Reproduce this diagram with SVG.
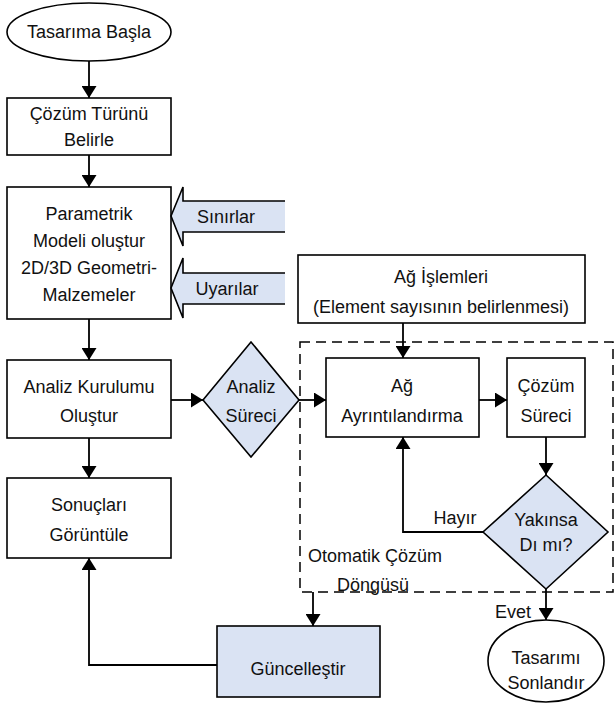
<svg xmlns="http://www.w3.org/2000/svg" width="614" height="709" viewBox="0 0 614 709">
<style>
.n{fill:#fff;stroke:#000;stroke-width:1.6}
.b{fill:#dae3f3;stroke:#000;stroke-width:1.6}
text{font-family:"Liberation Sans",Arial,sans-serif;font-size:18px;fill:#111;text-anchor:middle;dominant-baseline:central}
.c{fill:none;stroke:#000;stroke-width:1.8}
.d{fill:none;stroke:#000;stroke-width:1.5;stroke-dasharray:10 6}
</style>
<defs>
<marker id="ah" viewBox="0 0 12 15" refX="12" refY="7.5" markerWidth="12" markerHeight="15" markerUnits="userSpaceOnUse" orient="auto">
<path d="M0,0 L12,7.5 L0,15 Z" fill="#000"/>
</marker>
</defs>
<g id="connectors">
<line class="c" x1="89" y1="61" x2="89" y2="98" marker-end="url(#ah)"/>
<line class="c" x1="89" y1="155" x2="89" y2="187" marker-end="url(#ah)"/>
<line class="c" x1="89" y1="319" x2="89" y2="360" marker-end="url(#ah)"/>
<line class="c" x1="89" y1="438" x2="89" y2="478" marker-end="url(#ah)"/>
<line class="c" x1="171" y1="400" x2="203" y2="400" marker-end="url(#ah)"/>
<line class="c" x1="299" y1="400" x2="326" y2="400" marker-end="url(#ah)"/>
<line class="c" x1="479" y1="400" x2="507" y2="400" marker-end="url(#ah)"/>
<line class="c" x1="403" y1="323" x2="403" y2="358" marker-end="url(#ah)"/>
<line class="c" x1="546" y1="437" x2="546" y2="475" marker-end="url(#ah)"/>
<polyline class="c" points="483,532 403,532 403,437" marker-end="url(#ah)"/>
<line class="c" x1="546" y1="589" x2="546" y2="620" marker-end="url(#ah)"/>
<line class="c" x1="313" y1="592" x2="313" y2="626" marker-end="url(#ah)"/>
<polyline class="c" points="217,665 89,665 89,558" marker-end="url(#ah)"/>
<rect class="d" x="300" y="342" width="313" height="250"/>
<text x="455" y="518">Hayır</text>
<text x="513" y="612">Evet</text>
<text x="375" y="556">Otomatik Çözüm</text>
<text x="373" y="585">Döngüsü</text>
</g>
<g id="start"><ellipse class="n" cx="89" cy="32" rx="82" ry="29"/><text x="89" y="32">Tasarıma Başla</text></g>
<g id="cozum-turu"><rect class="n" x="7" y="98" width="164" height="57"/><text x="89" y="114">Çözüm Türünü</text><text x="89" y="140">Belirle</text></g>
<g id="parametrik"><rect class="n" x="7" y="187" width="164" height="132"/><text x="89" y="214">Parametrik</text><text x="89" y="241">Modeli oluştur</text><text x="89" y="268">2D/3D Geometri-</text><text x="89" y="295">Malzemeler</text></g>
<g id="sinirlar"><path class="b" d="M285,201 L183,201 L183,187 L171,216 L183,246 L183,232 L285,232" /><text x="226" y="217">Sınırlar</text></g>
<g id="uyarilar"><path class="b" d="M285,273 L183,273 L183,258 L171,288 L183,318 L183,304 L285,304" /><text x="227" y="289">Uyarılar</text></g>
<g id="analiz-kurulumu"><rect class="n" x="7" y="360" width="164" height="78"/><text x="89" y="387">Analiz Kurulumu</text><text x="89" y="416">Oluştur</text></g>
<g id="analiz-sureci"><polygon class="b" points="251,342 299,400 251,457 203,400"/><text x="251" y="387">Analiz</text><text x="251" y="416">Süreci</text></g>
<g id="sonuclar"><rect class="n" x="7" y="478" width="164" height="80"/><text x="89" y="505">Sonuçları</text><text x="89" y="535">Görüntüle</text></g>
<g id="ag-islemleri"><rect class="n" x="298" y="255" width="287" height="68"/><text x="441" y="277">Ağ İşlemleri</text><text x="441" y="307">(Element sayısının belirlenmesi)</text></g>
<g id="ag-ayrintilandirma"><rect class="n" x="326" y="358" width="153" height="79"/><text x="402" y="386">Ağ</text><text x="402" y="416">Ayrıntılandırma</text></g>
<g id="cozum-sureci"><rect class="n" x="507" y="358" width="78" height="79"/><text x="546" y="386">Çözüm</text><text x="546" y="416">Süreci</text></g>
<g id="yakinsadi"><polygon class="b" points="546,475 608,532 546,589 483,532"/><text x="546" y="520">Yakınsa</text><text x="546" y="545">Dı mı?</text></g>
<g id="guncellestir"><rect class="b" x="217" y="626" width="163" height="71"/><text x="298" y="669">Güncelleştir</text></g>
<g id="end"><ellipse class="n" cx="546" cy="661" rx="58" ry="41"/><text x="546" y="658">Tasarımı</text><text x="546" y="683">Sonlandır</text></g>
</svg>
